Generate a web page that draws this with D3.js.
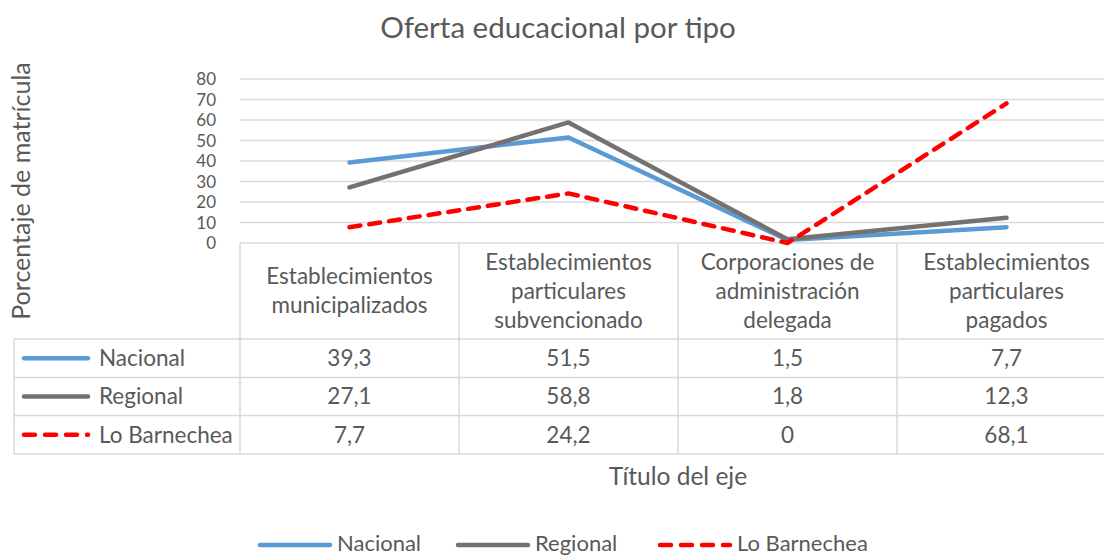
<!DOCTYPE html>
<html>
<head>
<meta charset="utf-8">
<script src="https://cdn.jsdelivr.net/npm/d3@7"></script>
<style>
  body { margin: 0; background: #fff; }
  text { font-family: Lato, sans-serif; fill: #595959; }
</style>
</head>
<body>
<svg id="chart" width="1104" height="556"></svg>
<script>
const categories = [
  ['Establecimientos', 'municipalizados'],
  ['Establecimientos', 'particulares', 'subvencionado'],
  ['Corporaciones de', 'administración', 'delegada'],
  ['Establecimientos', 'particulares', 'pagados']
];
const seriesNames = ['Nacional', 'Regional', 'Lo Barnechea'];
const nacional = [39.3, 51.5, 1.5, 7.7];
const regional = [27.1, 58.8, 1.8, 12.3];
const barnechea = [7.7, 24.2, 0, 68.1];
const yTicks = [0, 10, 20, 30, 40, 50, 60, 70, 80];

const series = [
  {name: seriesNames[0], values: nacional, color: '#5B9BD5', dash: null},
  {name: seriesNames[1], values: regional, color: '#767171', dash: null},
  {name: seriesNames[2], values: barnechea, color: '#FF0000', dash: '11,9'}
];

const svg = d3.select('#chart');
const gridColor = '#D9D9D9';
const plot = {left: 240, top: 79, bottom: 243};
const colW = 219;
const tableLeft = 14;
const rowLines = [339, 377.5, 415.5, 454];
const fs = 22.5;

const x = d3.scaleBand()
  .domain(d3.range(categories.length))
  .range([plot.left, plot.left + colW * categories.length])
  .padding(0);
const y = d3.scaleLinear().domain([0, 80]).range([plot.bottom, plot.top]);

// title
svg.append('text')
  .attr('x', 558).attr('y', 38)
  .attr('text-anchor', 'middle')
  .style('font-size', '29.5px')
  .text('Oferta educacional por tipo');

// gridlines
svg.append('g')
  .selectAll('line')
  .data(yTicks.slice(1))
  .enter()
  .append('line')
  .attr('x1', plot.left).attr('x2', 1104)
  .attr('y1', d => y(d)).attr('y2', d => y(d))
  .attr('stroke', gridColor).attr('stroke-width', 1.3);

// y tick labels
svg.append('g')
  .selectAll('text')
  .data(yTicks)
  .enter()
  .append('text')
  .attr('x', 216)
  .attr('y', d => y(d))
  .attr('dy', '0.36em')
  .attr('text-anchor', 'end')
  .style('font-size', '17px')
  .text(d => d);

// y axis title
svg.append('text')
  .attr('transform', 'translate(30,191) rotate(-90)')
  .attr('text-anchor', 'middle')
  .style('font-size', '25px')
  .text('Porcentaje de matrícula');

// table grid
const table = svg.append('g').attr('stroke', gridColor).attr('stroke-width', 1.5);
// top line of header
table.append('line')
  .attr('x1', plot.left).attr('x2', 1104)
  .attr('y1', plot.bottom).attr('y2', plot.bottom);
// row lines
table.selectAll('.row-line')
  .data(rowLines)
  .enter()
  .append('line')
  .attr('class', 'row-line')
  .attr('x1', tableLeft).attr('x2', 1104)
  .attr('y1', d => d).attr('y2', d => d);
// left edge
table.append('line')
  .attr('x1', tableLeft).attr('x2', tableLeft)
  .attr('y1', rowLines[0]).attr('y2', rowLines[rowLines.length - 1]);
// column lines
table.selectAll('.col-line')
  .data(d3.range(categories.length))
  .enter()
  .append('line')
  .attr('class', 'col-line')
  .attr('x1', d => x(d)).attr('x2', d => x(d))
  .attr('y1', plot.bottom).attr('y2', rowLines[rowLines.length - 1]);

// category labels
const catLabels = svg.append('g')
  .selectAll('text')
  .data(categories)
  .enter()
  .append('text')
  .attr('text-anchor', 'middle')
  .style('font-size', fs + 'px')
  .attr('transform', (d, i) => `translate(${x(i) + colW / 2},${(plot.bottom + rowLines[0]) / 2})`);
catLabels.selectAll('tspan')
  .data(d => d.map((t, j) => ({t, j, n: d.length})))
  .enter()
  .append('tspan')
  .attr('x', 0)
  .attr('y', d => (d.j - (d.n - 1) / 2) * 29)
  .attr('dy', '0.35em')
  .text(d => d.t);

// data cells
const fmt = v => String(v).replace('.', ',');
series.forEach((s, si) => {
  const cy = (rowLines[si] + rowLines[si + 1]) / 2;
  svg.append('g')
    .selectAll('text')
    .data(s.values)
    .enter()
    .append('text')
    .attr('x', (d, i) => x(i) + colW / 2)
    .attr('y', cy)
    .attr('dy', '0.35em')
    .attr('text-anchor', 'middle')
    .style('font-size', fs + 'px')
    .text(d => fmt(d));
  // legend key in table
  svg.append('line')
    .attr('x1', 24).attr('x2', 88)
    .attr('y1', cy).attr('y2', cy)
    .attr('stroke', s.color).attr('stroke-width', 4.5)
    .attr('stroke-linecap', 'round')
    .attr('stroke-dasharray', s.dash ? '11,10' : null);
  svg.append('text')
    .attr('x', 99).attr('y', cy)
    .attr('dy', '0.35em')
    .style('font-size', fs + 'px')
    .text(s.name);
});

// series lines
const line = d3.line()
  .x((d, i) => x(i) + colW / 2)
  .y(d => y(d));
svg.append('g')
  .selectAll('path')
  .data(series)
  .enter()
  .append('path')
  .attr('d', d => line(d.values))
  .attr('fill', 'none')
  .attr('stroke', d => d.color)
  .attr('stroke-width', 4.5)
  .attr('stroke-linecap', 'round')
  .attr('stroke-linejoin', 'round')
  .attr('stroke-dasharray', d => d.dash);

// x axis title
svg.append('text')
  .attr('x', 678).attr('y', 476)
  .attr('dy', '0.35em')
  .attr('text-anchor', 'middle')
  .style('font-size', '24.5px')
  .text('Título del eje');

// bottom legend
const legendX = [260, 458, 660];
const legend = svg.append('g')
  .selectAll('g')
  .data(series)
  .enter()
  .append('g')
  .attr('transform', (d, i) => `translate(${legendX[i]},543)`);
legend.append('line')
  .attr('x1', 0).attr('x2', 70)
  .attr('y1', 2).attr('y2', 2)
  .attr('stroke', d => d.color).attr('stroke-width', 4.5)
  .attr('stroke-linecap', 'round')
  .attr('stroke-dasharray', d => d.dash ? '11,10' : null);
legend.append('text')
  .attr('x', 77)
  .attr('dy', '0.35em')
  .style('font-size', '22px')
  .text(d => d.name);
</script>
</body>
</html>
